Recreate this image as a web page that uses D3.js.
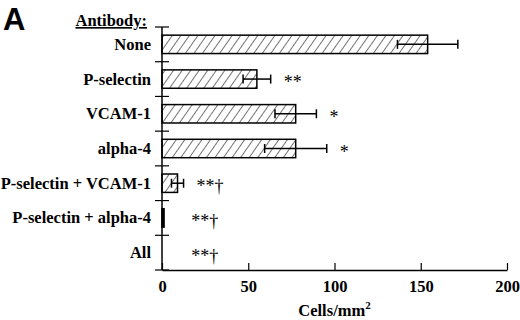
<!DOCTYPE html>
<html>
<head>
<meta charset="utf-8">
<script src="https://cdn.jsdelivr.net/npm/d3@7"></script>
<style>
    body { margin: 0; background: #fff; }
    svg text { font-family: "Liberation Serif", "Times New Roman", serif; font-weight: bold; fill: #000; }
    svg { opacity: 0.999; }
</style>
</head>
<body>
<svg id="canvas" width="520" height="320"></svg>
<script>
(function () {

    // Data.
    var antibodies = ["None", "P-selectin", "VCAM-1", "alpha-4",
        "P-selectin + VCAM-1", "P-selectin + alpha-4", "All"];
    var cellCounts = [154, 55, 77.5, 77.5, 9, 1.2, 0];
    var errors = [17.5, 8, 12, 18, 3.5, 0.5, 0];
    var marks = ["", "**", "*", "*", "**\u2020", "**\u2020", "**\u2020"];
    var xTicks = [0, 50, 100, 150, 200];

    var svg = d3.select("#canvas");
    var left = 162, right = 507, top = 27, bottom = 270;
    var fs = "16.5px";

    var x = d3.scaleLinear().domain([0, 200]).range([left, right]);
    var y = d3.scaleBand().domain(antibodies).range([top, bottom]);
    var step = y.step();
    var barH = step * 0.53;

    // Diagonal hatch, a bit steeper than 45 degrees.
    var defs = svg.append("defs");
    defs.append("pattern")
        .attr("id", "hatch")
        .attr("patternUnits", "userSpaceOnUse")
        .attr("width", 7).attr("height", 7)
        .attr("patternTransform", "rotate(35)")
        .append("line")
        .attr("x1", 0).attr("y1", 0).attr("x2", 0).attr("y2", 7)
        .attr("stroke", "#000").attr("stroke-width", 1.1);

    // Panel letter.
    svg.append("text")
        .attr("x", 3).attr("y", 30)
        .style("font-family", "'Liberation Sans', Arial, sans-serif")
        .style("font-size", "31px")
        .text("A");

    // Bars.
    var rows = antibodies.map((a, i) => ({ name: a, v: cellCounts[i], se: errors[i], mark: marks[i] }));
    var g = svg.append("g");
    g.selectAll("rect.bar")
        .data(rows.filter(d => d.v > 0))
        .join("rect")
        .attr("class", "bar")
        .attr("x", x(0))
        .attr("y", d => y(d.name) + (step - barH) / 2)
        .attr("width", d => x(d.v) - x(0))
        .attr("height", barH)
        .attr("fill", d => x(d.v) - x(0) < 4 ? "#000" : "url(#hatch)")
        .attr("stroke", "#000")
        .attr("stroke-width", 1.5);

    // Error bars.
    var eb = g.selectAll("g.err")
        .data(rows.filter(d => d.se > 0.6))
        .join("g")
        .attr("class", "err")
        .attr("stroke", "#000")
        .attr("stroke-width", 1.5);
    eb.append("line")
        .attr("x1", d => x(d.v - d.se)).attr("x2", d => x(d.v + d.se))
        .attr("y1", d => y(d.name) + step / 2).attr("y2", d => y(d.name) + step / 2);
    eb.append("line")
        .attr("x1", d => x(d.v + d.se)).attr("x2", d => x(d.v + d.se))
        .attr("y1", d => y(d.name) + step / 2 - 4.5).attr("y2", d => y(d.name) + step / 2 + 4.5);
    eb.append("line")
        .attr("x1", d => x(d.v - d.se)).attr("x2", d => x(d.v - d.se))
        .attr("y1", d => y(d.name) + step / 2 - 4.5).attr("y2", d => y(d.name) + step / 2 + 4.5);

    // Significance marks.
    g.selectAll("text.mark")
        .data(rows.filter(d => d.mark))
        .join("text")
        .attr("class", "mark")
        .attr("x", d => Math.max(x(d.v + d.se) + 13, x(17)))
        .attr("y", d => y(d.name) + step / 2 + 9)
        .style("font-size", "18px")
        .style("font-weight", "normal")
        .text(d => d.mark);

    // Y axis with ticks at the category boundaries.
    var yAxis = svg.append("g");
    yAxis.append("line")
        .attr("x1", left).attr("x2", left)
        .attr("y1", top).attr("y2", bottom)
        .attr("stroke", "#000").attr("stroke-width", 1.5);
    yAxis.selectAll("line.tick")
        .data(antibodies.map(a => y(a)).concat([bottom]))
        .join("line")
        .attr("class", "tick")
        .attr("x1", left - 7).attr("x2", left + 7)
        .attr("y1", d => d).attr("y2", d => d)
        .attr("stroke", "#000").attr("stroke-width", 1.2);
    yAxis.selectAll("text")
        .data(antibodies)
        .join("text")
        .attr("x", left - 11)
        .attr("y", d => y(d) + step / 2)
        .attr("dy", "0.33em")
        .attr("text-anchor", "end")
        .style("font-size", fs)
        .text(d => d);

    svg.append("text")
        .attr("x", 147).attr("y", 26)
        .attr("text-anchor", "end")
        .attr("text-decoration", "underline")
        .style("font-size", fs)
        .text("Antibody:");

    // X axis.
    var xAxis = d3.axisBottom(x)
        .tickValues(xTicks)
        .tickSizeInner(-7)
        .tickSizeOuter(0)
        .tickPadding(10);
    var xg = svg.append("g")
        .attr("transform", "translate(0," + bottom + ")")
        .call(xAxis);
    xg.select(".domain").attr("stroke-width", 1.5);
    xg.selectAll(".tick line").attr("stroke-width", 1.2);
    xg.selectAll(".tick text")
        .style("font-size", fs)
        .style("font-family", "'Liberation Serif', 'Times New Roman', serif");

    var xl = svg.append("text")
        .attr("x", x(100))
        .attr("y", 316)
        .attr("text-anchor", "middle")
        .style("font-size", fs);
    xl.append("tspan").text("Cells/mm");
    xl.append("tspan").attr("dy", -7).style("font-size", "11px").text("2");

})();
</script>
</body>
</html>
